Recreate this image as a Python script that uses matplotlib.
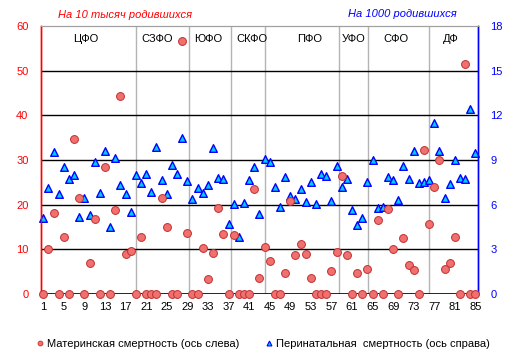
import matplotlib
matplotlib.use("Agg")
import matplotlib.pyplot as plt
from matplotlib.lines import Line2D

plt.rcParams['font.family'] = ['Liberation Sans', 'DejaVu Sans']

# region numbers 1..85
regions = list(range(1, 86))

# maternal mortality per 10 000 births (left axis)
maternal = [0, 10.0, 18.1, 0, 12.7, 0, 34.6, 21.6, 0, 6.9,
            16.9, 0, 28.4, 0, 18.7, 44.4, 8.9, 9.6, 0, 12.7,
            0, 0, 0, 21.6, 14.9, 0, 0, 56.6, 13.6, 0,
            0, 10.4, 3.4, 9.1, 19.2, 13.4, 0, 13.1, 0, 0,
            0, 23.4, 3.6, 10.6, 7.4, 0, 0, 4.6, 20.8, 8.7,
            11.3, 8.9, 3.6, 0, 0, 0, 5.1, 9.3, 26.4, 8.7,
            0, 4.8, 0, 5.7, 0, 16.5, 0, 19.0, 10.0, 0,
            12.5, 6.6, 5.3, 0, 32.2, 15.6, 24.0, 30.1, 5.5, 6.9,
            12.7, 0, 51.6, 0, 0]

# perinatal mortality per 1000 births (right axis)
perinatal = [5.08, 7.1, 9.56, 6.7, 8.5, 7.75, 7.97, 5.15, 6.47, 5.28,
             8.84, 6.76, 9.62, 4.48, 9.11, 7.3, 6.7, 5.53, 7.97, 7.43,
             8.04, 6.85, 9.85, 7.63, 6.7, 8.64, 8.04, 10.48, 7.57, 6.4,
             7.1, 6.8, 7.3, 9.8, 7.77, 7.7, 4.68, 6.02, 3.85, 6.09,
             7.68, 8.5, 5.35, 9.05, 8.84, 7.17, 5.87, 7.84, 6.6, 6.36,
             7.07, 6.18, 7.54, 6.04, 8.04, 7.9, 6.27, 8.58, 7.17, 7.7,
             5.66, 4.65, 5.08, 7.5, 8.97, 5.75, 5.87, 7.84, 7.65, 6.29,
             8.57, 7.7, 9.62, 7.43, 7.5, 7.68, 11.46, 9.62, 6.43, 7.36,
             8.97, 7.77, 7.71, 12.4, 9.45]

# federal districts: labels, label positions, separators
districts = ['ЦФО', 'СЗФО', 'ЮФО', 'СКФО', 'ПФО', 'УФО', 'СФО', 'ДФ']
district_label_x = [9.2, 23.05, 33.0, 41.6, 52.7, 61.35, 69.5, 80.2]
separators = [19, 29.4, 37.55, 44, 58.4, 64.2, 75.9]

xticks = list(range(1, 86, 4))
left_ticks = [0, 10, 20, 30, 40, 50, 60]
right_ticks = [0, 3, 6, 9, 12, 15, 18]

fig = plt.figure(figsize=(5.18, 3.62), dpi=100)
ax = fig.add_axes([41/518, 68/362, 437/518, 268/362])
ax2 = ax.twinx()

ax.set_xlim(0.55, 85.5)
ax.set_ylim(0, 60)
ax2.set_ylim(0, 18)

# background grid on the lower (right-axis) axes
for s in separators:
    ax2.axvline(s, color='#b4b4b4', lw=1.0, zorder=1)
for v in right_ticks[1:-1]:
    ax2.axhline(v, color='black', lw=1.0, zorder=1)
ax2.axhline(0, color='black', lw=1.2, zorder=1)

ax2.scatter(regions, perinatal, s=30, marker='^', facecolor='#00ccff',
            edgecolor='#0000ff', linewidths=1.0, zorder=5, clip_on=False)
ax.scatter(regions, maternal, s=32, facecolor='#f07070', edgecolor='#c03030',
           linewidths=0.7, zorder=6, clip_on=False)

for lab, x in zip(districts, district_label_x):
    ax.text(x, 57.0, lab, ha='center', va='center', fontsize=8, color='black')

ax.set_xticks(xticks)
ax.set_xticklabels([str(t) for t in xticks])
ax.set_yticks(left_ticks)
ax2.set_yticks(right_ticks)
ax.tick_params(axis='x', length=0, labelsize=8, pad=6, colors='black')
ax.tick_params(axis='y', length=0, labelsize=8, colors='#ff0000', pad=9)
ax2.tick_params(axis='y', length=0, labelsize=8, colors='#0000ff', pad=9)

for a in (ax, ax2):
    a.spines['top'].set_color('#a0a0a0')
    a.spines['bottom'].set_visible(False)
    a.spines['left'].set_color('#ff0000')
    a.spines['right'].set_color('#0000ff')
    a.spines['left'].set_linewidth(1.0)
    a.spines['right'].set_linewidth(1.0)

# left axes (red circles) on top, transparent
ax2.set_zorder(1)
ax.set_zorder(2)
ax.patch.set_visible(False)
ax2.patch.set_visible(True)
ax2.patch.set_facecolor('white')

fig.text(58/518, 1 - 15/362, 'На 10 тысяч родившихся', color='#ff0000',
         style='italic', fontsize=8, ha='left', va='center')
fig.text(348/518, 1 - 14/362, 'На 1000 родившихся', color='#0000ff',
         style='italic', fontsize=8, ha='left', va='center')

handles = [
    Line2D([], [], marker='o', ls='', markersize=3.5, markerfacecolor='#f07070',
           markeredgecolor='#c03030', markeredgewidth=0.6),
    Line2D([], [], marker='^', ls='', markersize=3.5, markerfacecolor='#00ccff',
           markeredgecolor='#0000ff', markeredgewidth=0.8),
]
fig.legend(handles, ['Материнская смертность (ось слева)',
                     'Перинатальная  смертность (ось справа)'],
           loc='center', bbox_to_anchor=(262/518, 1 - 344/362), ncol=2,
           frameon=False, fontsize=8, handletextpad=0.1, columnspacing=2.2,
           handlelength=1.0)

fig.savefig('out.png', dpi=100)
